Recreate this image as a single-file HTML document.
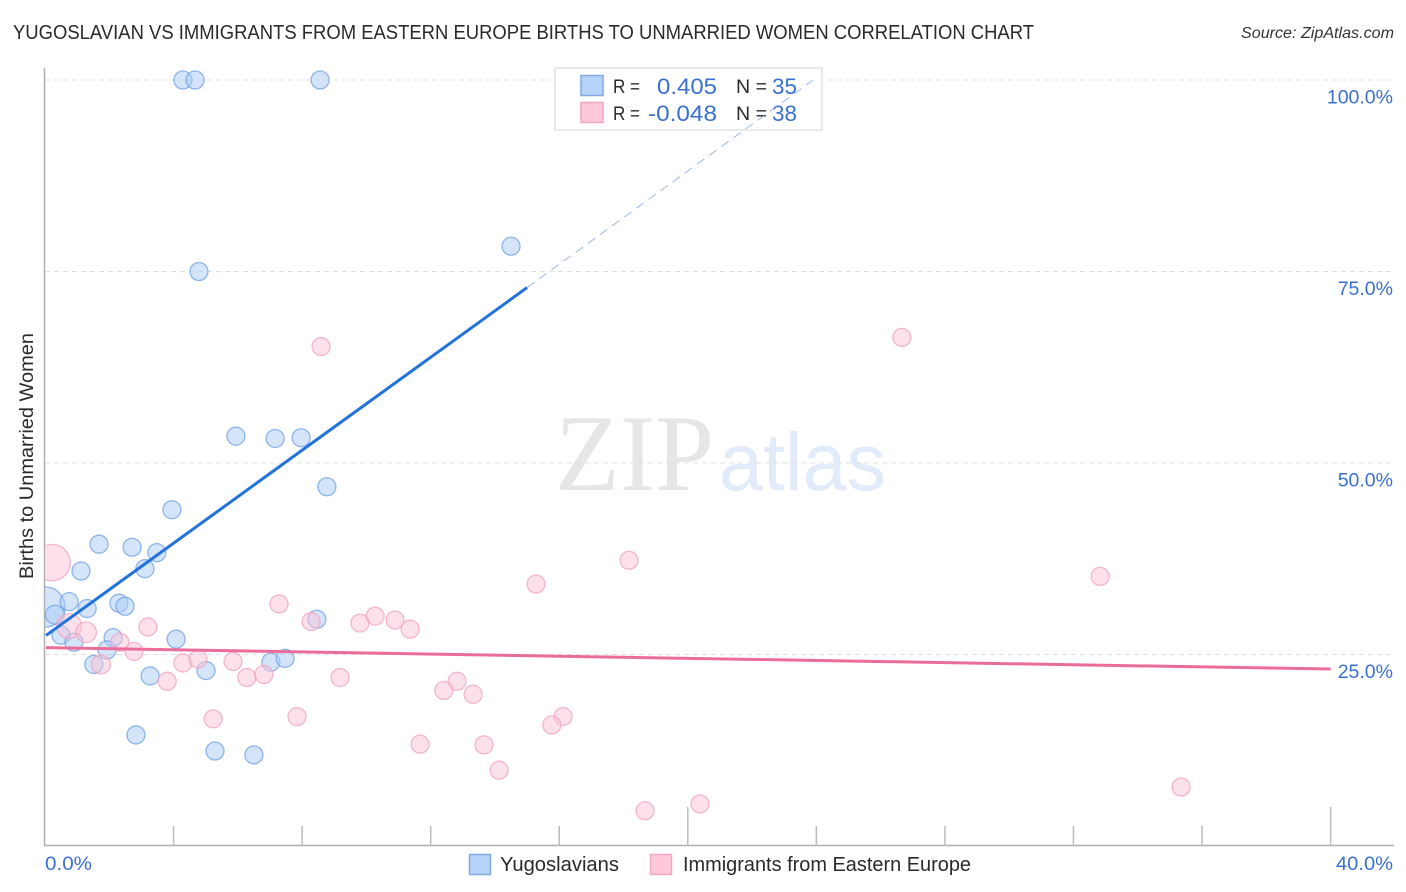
<!DOCTYPE html>
<html lang="en">
<head>
<meta charset="utf-8">
<title>Yugoslavian vs Immigrants from Eastern Europe Births to Unmarried Women Correlation Chart</title>
<style>
html,body{margin:0;padding:0;background:#fff;}
svg{display:block;font-family:"Liberation Sans",sans-serif;}
</style>
</head>
<body>
<svg id="chart" width="1406" height="892" viewBox="0 0 1406 892" xmlns="http://www.w3.org/2000/svg">
<defs><clipPath id="plot-clip"><rect x="45" y="55" width="1349" height="791"/></clipPath></defs>
<rect x="0" y="0" width="1406" height="892" fill="#ffffff"/>
<g>
<text x="555" y="490" font-family="'Liberation Serif',serif" font-size="109" fill="#e6e6e6" textLength="159" lengthAdjust="spacingAndGlyphs">ZIP</text>
<text x="719" y="490" font-size="82" fill="#e2ebf9" textLength="167" lengthAdjust="spacingAndGlyphs">atlas</text>
</g>
<g id="grid"></g>
<g id="axes"></g>
<g id="points" clip-path="url(#plot-clip)"></g>
<g id="trends"></g>
<text x="13" y="39" font-size="20" fill="#2a2a2a" textLength="1021" lengthAdjust="spacingAndGlyphs">YUGOSLAVIAN VS IMMIGRANTS FROM EASTERN EUROPE BIRTHS TO UNMARRIED WOMEN CORRELATION CHART</text>
<text x="1241" y="38" font-size="15.5" font-style="italic" fill="#333333" textLength="153" lengthAdjust="spacingAndGlyphs">Source: ZipAtlas.com</text>
<text transform="translate(33,579) rotate(-90)" x="0" y="0" font-size="19" fill="#2a2a2a" textLength="246" lengthAdjust="spacingAndGlyphs">Births to Unmarried Women</text>
<g>
<rect x="555" y="68" width="267" height="62" fill="#ffffff" fill-opacity="0.85" stroke="#e2e2e2" stroke-width="1.5"/>
<rect x="581" y="75.5" width="22" height="20" fill="#b5d3f8" stroke="#7fa9e0" stroke-width="1.5"/>
<rect x="581" y="102.5" width="22" height="20" fill="#fcc8da" stroke="#f2a7c0" stroke-width="1.5"/>
<text x="613" y="93" font-size="19.5" fill="#2a2a2a" textLength="27" lengthAdjust="spacingAndGlyphs">R =</text>
<text x="657" y="94" font-size="22.5" fill="#3a70d0" textLength="60" lengthAdjust="spacingAndGlyphs">0.405</text>
<text x="736" y="93" font-size="19.5" fill="#2a2a2a" textLength="31" lengthAdjust="spacingAndGlyphs">N =</text>
<text x="772" y="94" font-size="22.5" fill="#3a70d0" textLength="25" lengthAdjust="spacingAndGlyphs">35</text>
<text x="613" y="120" font-size="19.5" fill="#2a2a2a" textLength="27" lengthAdjust="spacingAndGlyphs">R =</text>
<text x="648" y="121" font-size="22.5" fill="#3a70d0" textLength="69" lengthAdjust="spacingAndGlyphs">-0.048</text>
<text x="736" y="120" font-size="19.5" fill="#2a2a2a" textLength="31" lengthAdjust="spacingAndGlyphs">N =</text>
<text x="772" y="121" font-size="22.5" fill="#3a70d0" textLength="25" lengthAdjust="spacingAndGlyphs">38</text>
</g>
<g id="dash-overlay"></g>
<g>
<rect x="469.5" y="854.5" width="21" height="20" fill="#b5d3f8" stroke="#7fa9e0" stroke-width="1.5"/>
<text x="500" y="871" font-size="20" fill="#2a2a2a" textLength="119" lengthAdjust="spacingAndGlyphs">Yugoslavians</text>
<rect x="650.5" y="854.5" width="21" height="20" fill="#fcc8da" stroke="#f2a7c0" stroke-width="1.5"/>
<text x="683" y="871" font-size="20" fill="#2a2a2a" textLength="288" lengthAdjust="spacingAndGlyphs">Immigrants from Eastern Europe</text>
</g>
</svg>
<script>
const xTickValues = [0, 4, 8, 12, 16, 20, 24, 28, 32, 36, 40];
const xMajorTicks = [20, 40];
const xTickLabels = ["0.0%", "40.0%"];
const yTickValues = [100, 75, 50, 25];
const yTickLabels = ["100.0%", "75.0%", "50.0%", "25.0%"];

const blueX = [4.29, 4.67, 8.56, 14.5, 4.79, 5.94, 7.16, 7.97, 8.77, 3.95, 1.68, 2.71, 3.48, 3.11, 1.12, 0.0, 0.75, 0.31, 1.31, 2.30, 2.49, 0.50, 0.90, 2.12, 1.93, 4.08, 8.46, 1.52, 3.27, 5.01, 7.03, 7.47, 2.83, 5.29, 6.50];
const blueY = [100, 100, 100, 78.3, 75.0, 53.5, 53.2, 53.3, 46.9, 43.9, 39.4, 39.0, 38.3, 36.2, 35.9, 31.2, 31.9, 30.2, 31.0, 31.7, 31.3, 27.5, 26.6, 27.2, 25.6, 27.0, 29.6, 23.7, 22.2, 22.9, 24.0, 24.5, 14.5, 12.4, 11.9];
const blueWeight = [1, 1, 1, 1, 1, 1, 1, 1, 1, 1, 1, 1, 1, 1, 1, 5, 1, 1.1, 1, 1, 1, 1, 1, 1, 1, 1, 1, 1, 1, 1, 1, 1, 1, 1, 1];

const pinkX = [0.22, 8.59, 26.66, 18.17, 32.83, 15.28, 7.28, 10.27, 10.89, 8.28, 9.80, 11.36, 3.20, 0.75, 1.28, 2.33, 2.77, 1.74, 4.29, 4.76, 5.85, 6.28, 6.81, 3.80, 9.18, 12.82, 12.41, 13.32, 5.23, 7.84, 16.12, 15.77, 11.67, 13.66, 14.13, 35.35, 20.38, 18.67];
const pinkY = [37.0, 65.2, 66.4, 37.3, 35.2, 34.2, 31.6, 30.0, 29.5, 29.3, 29.1, 28.3, 28.6, 28.7, 27.9, 26.6, 25.4, 23.7, 23.9, 24.4, 24.1, 22.0, 22.4, 21.5, 22.0, 21.5, 20.3, 19.8, 16.6, 16.9, 16.9, 15.8, 13.3, 13.2, 9.9, 7.7, 5.5, 4.6];
const pinkWeight = [4.1, 1, 1, 1, 1, 1, 1, 1, 1, 1, 1, 1, 1, 1.9, 1.3, 1, 1, 1.1, 1, 1, 1, 1, 1, 1, 1, 1, 1, 1, 1, 1, 1, 1, 1, 1, 1, 1, 1, 1];

const blueTrendX = [0, 15];
const blueTrendY = [27.4, 72.9];
const blueTrendExtensionX = [15, 23.9];
const blueTrendExtensionY = [72.9, 100];
const pinkTrendX = [0, 40];
const pinkTrendY = [25.9, 23.1];

const NS = "http://www.w3.org/2000/svg";
function xScale(v) { return 45 + v * 32.14; }
function yScale(v) { return 846 - v * 7.66; }
function radius(w) { return 9 * Math.sqrt(w); }
function make(tag, parent, attrs) {
  const el = document.createElementNS(NS, tag);
  for (const k in attrs) el.setAttribute(k, attrs[k]);
  parent.appendChild(el);
  return el;
}

const grid = document.getElementById("grid");
const axes = document.getElementById("axes");
const points = document.getElementById("points");
const trends = document.getElementById("trends");
const overlay = document.getElementById("dash-overlay");

yTickValues.forEach(function (v, i) {
  const line = make("line", grid, { x1: 45, x2: 1394, y1: yScale(v), y2: yScale(v), stroke: "#e0e0e0", "stroke-width": 1, "stroke-dasharray": "5 4" });
  
  
  const label = make("text", axes, { x: 1393, y: yScale(v) + 23.5, "text-anchor": "end", "font-size": 19.5, fill: "#3a70d0" });
  
  
  label.textContent = yTickLabels[i];
});

const yAxis = make("line", axes, { x1: 44.5, x2: 44.5, y1: 68, y2: 846, stroke: "#b0b0b0", "stroke-width": 1.5 });


const xAxis = make("line", axes, { x1: 44, x2: 1394, y1: 845.5, y2: 845.5, stroke: "#b0b0b0", "stroke-width": 1.5 });



xTickValues.slice(1).forEach(function (v) {
  const major = xMajorTicks.indexOf(v) >= 0;
  const tick = make("line", axes, { x1: xScale(v), x2: xScale(v), y1: major ? 807 : 826, y2: 846, stroke: "#bbbbbb", "stroke-width": 1.5 });
  
  
});

const xLabelLeft = make("text", axes, { x: 45, y: 870, "font-size": 19.5, fill: "#3a70d0", textLength: 47, lengthAdjust: "spacingAndGlyphs" });


xLabelLeft.textContent = xTickLabels[0];
const xLabelRight = make("text", axes, { x: 1336, y: 870, "font-size": 19.5, fill: "#3a70d0", textLength: 57, lengthAdjust: "spacingAndGlyphs" });


xLabelRight.textContent = xTickLabels[1];

blueX.forEach(function (v, i) {
  const dot = make("circle", points, { cx: xScale(v), cy: yScale(blueY[i]), r: radius(blueWeight[i]), fill: "#a9ccf5", "fill-opacity": 0.5, stroke: "#6d9fe6", "stroke-opacity": 0.75, "stroke-width": 1.3 });
  
  
});
pinkX.forEach(function (v, i) {
  const dot = make("circle", points, { cx: xScale(v), cy: yScale(pinkY[i]), r: radius(pinkWeight[i]), fill: "#fbc3d6", "fill-opacity": 0.5, stroke: "#f0a0bd", "stroke-opacity": 0.75, "stroke-width": 1.3 });
  
  
});

const blueTrend = make("line", trends, { x1: xScale(blueTrendX[0]) + 1, y1: yScale(blueTrendY[0]) - 0.7, x2: xScale(blueTrendX[1]), y2: yScale(blueTrendY[1]), stroke: "#2272dc", "stroke-width": 3 });


const pinkTrend = make("line", trends, { x1: xScale(pinkTrendX[0]) + 1, y1: yScale(pinkTrendY[0]), x2: xScale(pinkTrendX[1]), y2: yScale(pinkTrendY[1]), stroke: "#ea6c9a", "stroke-width": 3 });


const blueExtension = make("line", overlay, { x1: xScale(blueTrendExtensionX[0]), y1: yScale(blueTrendExtensionY[0]), x2: xScale(blueTrendExtensionX[1]), y2: yScale(blueTrendExtensionY[1]), stroke: "#7f9fdc", "stroke-opacity": 0.75, "stroke-width": 1, "stroke-dasharray": "9 6" });


</script>
</body>
</html>
